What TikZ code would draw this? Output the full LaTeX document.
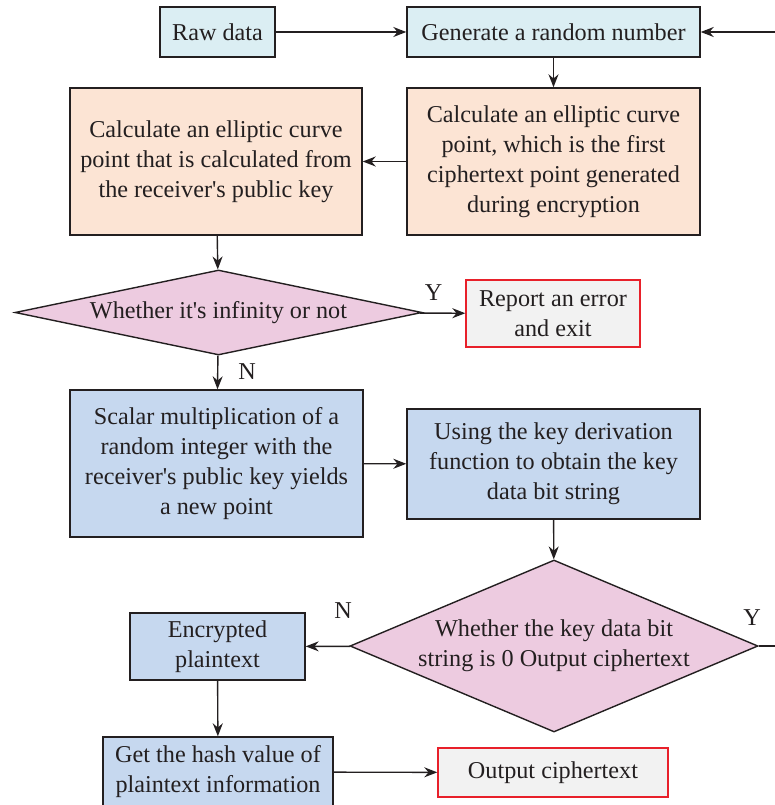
\documentclass[tikz,border=0pt]{standalone}
\usepackage{fontspec}
\newfontfamily\bodyfont{Liberation Serif}
\usetikzlibrary{shapes.geometric,arrows.meta}
\definecolor{ink}{HTML}{231F20}
\definecolor{cyanfill}{HTML}{DBEEF3}
\definecolor{peachfill}{HTML}{FCE4D4}
\definecolor{pinkfill}{HTML}{EDCBE0}
\definecolor{bluefill}{HTML}{C6D8EF}
\definecolor{grayfill}{HTML}{F2F2F2}
\definecolor{errred}{HTML}{E8202A}
\tikzset{
  base/.style={draw=ink, line width=1.4pt, text=ink, align=center, inner sep=0pt,
    font=\bodyfont\fontsize{24.2}{30}\selectfont},
  cyanbox/.style={base, rectangle, fill=cyanfill},
  peachbox/.style={base, rectangle, fill=peachfill},
  bluebox/.style={base, rectangle, fill=bluefill},
  redbox/.style={base, rectangle, fill=grayfill, draw=errred},
  decision/.style={base, diamond, fill=pinkfill},
  flow/.style={draw=ink, line width=1.4pt, -{Stealth[length=13pt,width=10pt]}},
  plainline/.style={draw=ink, line width=1.4pt},
  lbl/.style={text=ink, font=\bodyfont\fontsize{24.2}{30}\selectfont, inner sep=0pt}
}
\begin{document}
\begin{tikzpicture}[x=1pt,y=-1pt]
\useasboundingbox (0,0) rectangle (775,805);

% first row
\node[cyanbox, minimum width=115pt, minimum height=50pt] (raw) at (217.5,32) {Raw data};
\node[cyanbox, minimum width=293pt, minimum height=50pt] (rand) at (553.5,32) {Generate a random number};
\coordinate (loopin) at (776,32);

% elliptic curve points
\node[peachbox, minimum width=293pt, minimum height=147pt] (c1) at (553.5,161.5)
  {Calculate an elliptic curve\\point, which is the first\\ciphertext point generated\\during encryption};
\node[peachbox, minimum width=292pt, minimum height=147pt] (c2) at (216,161.5)
  {Calculate an elliptic curve\\point that is calculated from\\the receiver's public key};

% infinity check
\node[decision, minimum width=407pt, minimum height=85pt, aspect=4.8] (inf) at (218.5,312.5)
  {Whether it's infinity or not};
\node[redbox, minimum width=174pt, minimum height=67pt] (err) at (553,313.5)
  {Report an error\\and exit};

% key material
\node[bluebox, minimum width=293pt, minimum height=147pt] (mul) at (216.5,463.5)
  {Scalar multiplication of a\\random integer with the\\receiver's public key yields\\a new point};
\node[bluebox, minimum width=293pt, minimum height=110pt] (kdf) at (553.5,464)
  {Using the key derivation\\function to obtain the key\\data bit string};

% zero check
\node[decision, minimum width=408pt, minimum height=172pt, aspect=2.37] (zero) at (554,646)
  {Whether the key data bit\\string is 0 Output ciphertext};
\coordinate (yout) at (776,646);
\node[bluebox, minimum width=175pt, minimum height=67pt] (enc) at (217.5,646.5)
  {Encrypted\\plaintext};

% final row
\node[bluebox, minimum width=230pt, minimum height=70pt] (hash) at (218,772)
  {Get the hash value of\\plaintext information};
\node[redbox, minimum width=230pt, minimum height=49pt] (out) at (553,772.5)
  {Output ciphertext};

% connectors
\draw[flow] (raw) -- (rand);
\draw[flow] (loopin) -- (rand);
\draw[flow] (rand) -- (c1);
\draw[flow] (c1) -- (c2);
\draw[flow] (c2) -- (inf);
\draw[flow] (inf) -- node[lbl, pos=0.3, above=12pt] (ylab1) {Y} (err);
\draw[flow] (inf) -- (mul);
\node[lbl] (nlab1) at (247,372) {N};
\draw[flow] (mul) -- (kdf);
\draw[flow] (kdf) -- (zero);
\draw[flow] (zero) -- (enc);
\node[lbl] (nlab2) at (343,611) {N};
\draw[plainline] (zero) -- (yout);
\node[lbl] (ylab2) at (752,618) {Y};
\draw[flow] (enc) -- (hash);
\draw[flow] (hash) -- (out);
\end{tikzpicture}
\end{document}
